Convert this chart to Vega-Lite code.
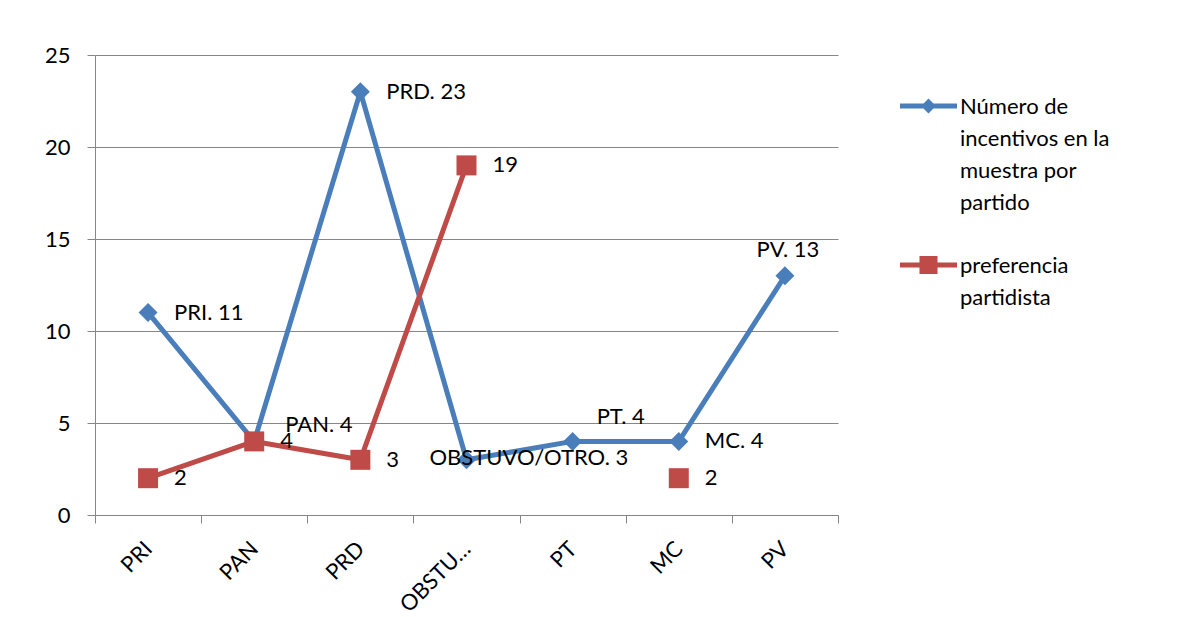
{
  "$schema": "https://vega.github.io/schema/vega-lite/v6.json",
  "autosize": "none",
  "width": 743,
  "height": 460,
  "padding": {"left": 95, "top": 55, "right": 356, "bottom": 102},
  "background": "white",
  "config": {"font": "Lato", "view": {"stroke": null}},
  "data": {
    "values": [
      {"partido": "PRI", "serie": "Número de incentivos en la muestra por partido", "valor": 11, "etiqueta": "PRI. 11"},
      {"partido": "PAN", "serie": "Número de incentivos en la muestra por partido", "valor": 4, "etiqueta": "PAN. 4"},
      {"partido": "PRD", "serie": "Número de incentivos en la muestra por partido", "valor": 23, "etiqueta": "PRD. 23"},
      {"partido": "OBSTUVO/OTRO", "serie": "Número de incentivos en la muestra por partido", "valor": 3, "etiqueta": "OBSTUVO/OTRO. 3"},
      {"partido": "PT", "serie": "Número de incentivos en la muestra por partido", "valor": 4, "etiqueta": "PT. 4"},
      {"partido": "MC", "serie": "Número de incentivos en la muestra por partido", "valor": 4, "etiqueta": "MC. 4"},
      {"partido": "PV", "serie": "Número de incentivos en la muestra por partido", "valor": 13, "etiqueta": "PV. 13"},
      {"partido": "PRI", "serie": "preferencia partidista", "valor": 2, "etiqueta": "2"},
      {"partido": "PAN", "serie": "preferencia partidista", "valor": 4, "etiqueta": "4"},
      {"partido": "PRD", "serie": "preferencia partidista", "valor": 3, "etiqueta": "3"},
      {"partido": "OBSTUVO/OTRO", "serie": "preferencia partidista", "valor": 19, "etiqueta": "19"},
      {"partido": "PT", "serie": "preferencia partidista", "valor": null, "etiqueta": ""},
      {"partido": "MC", "serie": "preferencia partidista", "valor": 2, "etiqueta": "2"},
      {"partido": "PV", "serie": "preferencia partidista", "valor": null, "etiqueta": ""}
    ]
  },
  "encoding": {
    "x": {
      "field": "partido",
      "type": "nominal",
      "sort": ["PRI", "PAN", "PRD", "OBSTUVO/OTRO", "PT", "MC", "PV"],
      "scale": {"type": "band", "paddingInner": 0, "paddingOuter": 0},
      "axis": {
        "title": null,
        "grid": false,
        "tickBand": "extent",
        "domainColor": "#868686",
        "tickColor": "#868686",
        "tickSize": 8,
        "labelAngle": -45,
        "labelAlign": "right",
        "labelBaseline": "middle",
        "labelFont": "Lato",
        "labelFontSize": 22,
        "labelColor": "#000000",
        "labelPadding": 22,
        "labelLimit": 300,
        "labelExpr": "datum.label == 'OBSTUVO/OTRO' ? 'OBSTU…' : datum.label"
      }
    },
    "y": {
      "field": "valor",
      "type": "quantitative",
      "scale": {"domain": [0, 25]},
      "axis": {
        "title": null,
        "values": [0, 5, 10, 15, 20, 25],
        "grid": true,
        "gridColor": "#868686",
        "domainColor": "#868686",
        "tickColor": "#868686",
        "tickSize": 8,
        "labelFont": "Lato",
        "labelFontSize": 22,
        "labelColor": "#000000",
        "labelPadding": 17
      }
    }
  },
  "layer": [
    {
      "transform": [{"filter": "datum.serie == 'Número de incentivos en la muestra por partido'"}],
      "mark": {"type": "line", "color": "#4a7ebb", "strokeWidth": 5, "strokeJoin": "round", "strokeCap": "round"}
    },
    {
      "transform": [{"filter": "datum.serie == 'Número de incentivos en la muestra por partido'"}],
      "mark": {"type": "point", "shape": "diamond", "filled": true, "size": 360, "color": "#4a7ebb", "opacity": 1}
    },
    {
      "transform": [{"filter": "datum.serie == 'preferencia partidista'"}],
      "mark": {"type": "line", "color": "#be4b48", "strokeWidth": 5, "strokeJoin": "round", "strokeCap": "round", "invalid": "break-paths-show-domains"}
    },
    {
      "transform": [{"filter": "datum.serie == 'preferencia partidista' && datum.valor != null"}],
      "mark": {"type": "point", "shape": "square", "filled": true, "size": 400, "color": "#be4b48", "opacity": 1}
    },
    {
      "transform": [{"filter": "(datum.serie == 'preferencia partidista' && datum.valor != null) || (datum.serie == 'Número de incentivos en la muestra por partido' && indexof(['PRI','PRD','MC'], datum.partido) >= 0)"}],
      "mark": {"type": "text", "align": "left", "baseline": "middle", "dx": 26, "font": "Lato", "fontSize": 22, "color": "#000000"},
      "encoding": {"text": {"field": "etiqueta"}}
    },
    {
      "transform": [{"filter": "datum.serie == 'Número de incentivos en la muestra por partido' && datum.partido == 'PAN'"}],
      "mark": {"type": "text", "align": "left", "baseline": "middle", "dx": 31, "dy": -16, "font": "Lato", "fontSize": 22, "color": "#000000"},
      "encoding": {"text": {"field": "etiqueta"}}
    },
    {
      "transform": [{"filter": "datum.serie == 'Número de incentivos en la muestra por partido' && datum.partido == 'PT'"}],
      "mark": {"type": "text", "align": "left", "baseline": "middle", "dx": 24, "dy": -24, "font": "Lato", "fontSize": 22, "color": "#000000"},
      "encoding": {"text": {"field": "etiqueta"}}
    },
    {
      "transform": [{"filter": "datum.serie == 'Número de incentivos en la muestra por partido' && datum.partido == 'PV'"}],
      "mark": {"type": "text", "align": "center", "baseline": "middle", "dx": 3, "dy": -26, "font": "Lato", "fontSize": 22, "color": "#000000"},
      "encoding": {"text": {"field": "etiqueta"}}
    },
    {
      "transform": [{"filter": "datum.serie == 'Número de incentivos en la muestra por partido' && datum.partido == 'OBSTUVO/OTRO'"}],
      "mark": {"type": "text", "align": "left", "baseline": "middle", "dx": -37, "dy": -2, "font": "Lato", "fontSize": 22, "color": "#000000"},
      "encoding": {"text": {"field": "etiqueta"}}
    },
    {
      "transform": [{"filter": "false"}],
      "mark": {"type": "point", "filled": true, "opacity": 1},
      "encoding": {
        "color": {
          "field": "serie",
          "type": "nominal",
          "scale": {"domain": ["Número de incentivos en la muestra por partido", "preferencia partidista"], "range": ["#4a7ebb", "#be4b48"]},
          "legend": {
            "orient": "none",
            "legendX": 805,
            "legendY": 13,
            "title": null,
            "padding": 0,
            "symbolSize": 3249,
            "symbolStrokeWidth": 0,
            "symbolOpacity": 1,
            "labelFont": "Lato",
            "labelFontSize": 22,
            "labelColor": "#000000",
            "labelBaseline": "top",
            "labelOffset": 3,
            "labelLimit": 400,
            "rowPadding": 13,
            "labelExpr": "datum.label == 'preferencia partidista' ? ['preferencia', 'partidista'] : ['Número de', 'incentivos en la', 'muestra por', 'partido']",
            "encode": {"labels": {"update": {"lineHeight": {"value": 32}}}}
          }
        },
        "shape": {
          "field": "serie",
          "type": "nominal",
          "scale": {
            "domain": ["Número de incentivos en la muestra por partido", "preferencia partidista"],
            "range": [
              "M-1,0.245 L1,0.245 L1,0.421 L-1,0.421 Z M0,0.07 L0.263,0.333 L0,0.596 L-0.263,0.333 Z",
              "M-1,0.245 L1,0.245 L1,0.421 L-1,0.421 Z M-0.316,0.017 L0.316,0.017 L0.316,0.649 L-0.316,0.649 Z"
            ]
          },
          "legend": {
            "orient": "none",
            "legendX": 805,
            "legendY": 13,
            "title": null,
            "padding": 0,
            "symbolSize": 3249,
            "symbolStrokeWidth": 0,
            "symbolOpacity": 1,
            "labelFont": "Lato",
            "labelFontSize": 22,
            "labelColor": "#000000",
            "labelBaseline": "top",
            "labelOffset": 3,
            "labelLimit": 400,
            "rowPadding": 13,
            "labelExpr": "datum.label == 'preferencia partidista' ? ['preferencia', 'partidista'] : ['Número de', 'incentivos en la', 'muestra por', 'partido']",
            "encode": {"labels": {"update": {"lineHeight": {"value": 32}}}}
          }
        }
      }
    }
  ]
}
